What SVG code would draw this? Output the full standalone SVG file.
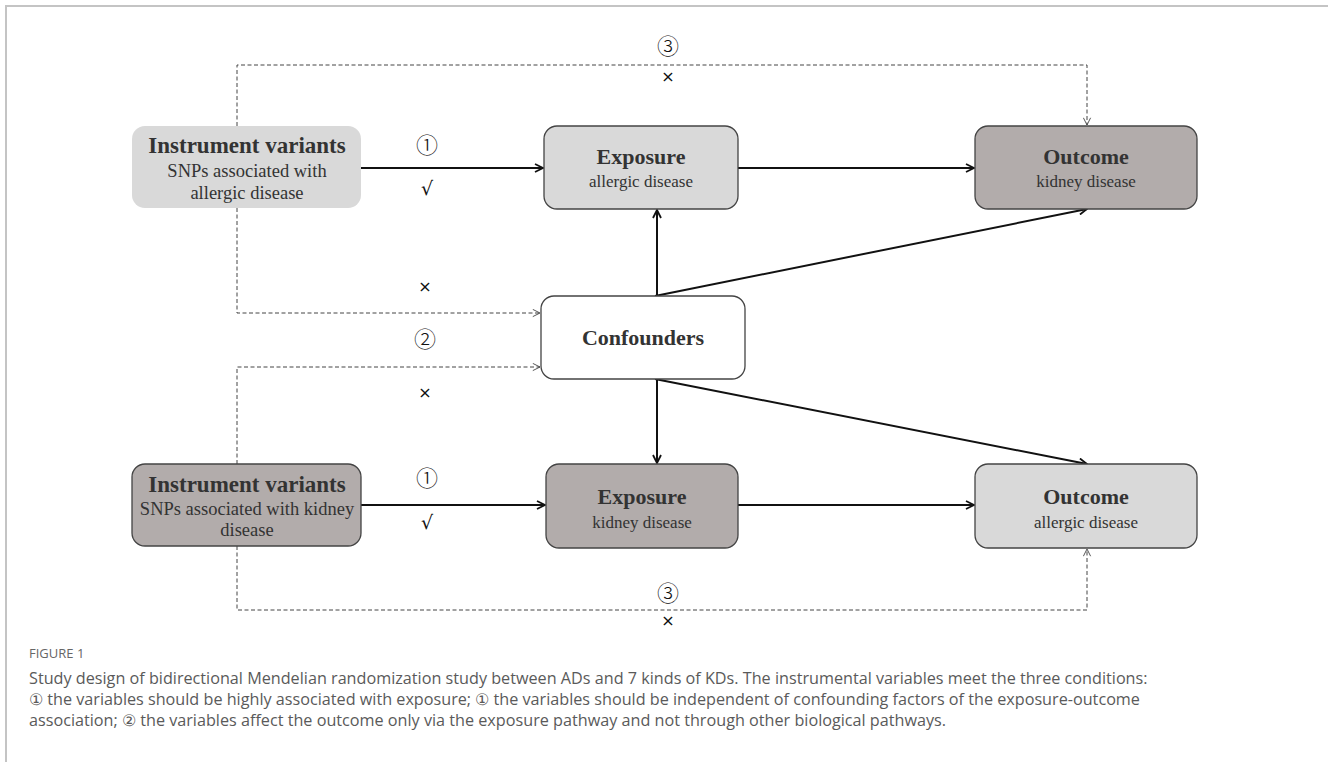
<svg xmlns="http://www.w3.org/2000/svg" width="1328" height="762" viewBox="0 0 1328 762">
<style>
.box{stroke:#444;stroke-width:1.3}
.light{fill:#d9d9d9}
.dark{fill:#b2acab}
.t{font-family:"Liberation Serif",serif;fill:#333;text-anchor:middle}
.title{font-size:22px;font-weight:bold}
.ivt{font-size:23px;font-weight:bold}
.sub{font-size:17px}
.sub2{font-size:18.5px}
.solid{stroke:#111;stroke-width:2;fill:none}
.dash{stroke:#444;stroke-width:1;stroke-dasharray:4,2.5;fill:none}
.lab{font-family:"DejaVu Sans",sans-serif;fill:#111;text-anchor:middle}
.num{font-family:"Noto Sans CJK JP","DejaVu Sans",sans-serif;font-size:22px;font-weight:300}
.x{font-size:16px}
.ck{font-size:19px}
.cap{font-family:"Open Sans",sans-serif;fill:#5a5a5a;font-size:16.2px}
</style>
<defs>
<marker id="ah" viewBox="0 0 10 10" refX="9" refY="5" markerWidth="10" markerHeight="10" markerUnits="userSpaceOnUse" orient="auto">
<path d="M1,1 L9,5 L1,9" fill="none" stroke="#111" stroke-width="1.8"/>
</marker>
<marker id="dh" viewBox="0 0 10 10" refX="9" refY="5" markerWidth="9" markerHeight="9" markerUnits="userSpaceOnUse" orient="auto">
<path d="M1,1 L9,5 L1,9" fill="none" stroke="#444" stroke-width="1"/>
</marker>
</defs>
<rect width="1328" height="762" fill="#fff"/>
<path d="M6,762 V6 H1328" fill="none" stroke="#c4c4c4" stroke-width="2"/>

<g id="connectors">
<line class="solid" x1="361" y1="168" x2="543" y2="168" marker-end="url(#ah)"/>
<line class="solid" x1="738" y1="168" x2="974" y2="168" marker-end="url(#ah)"/>
<line class="solid" x1="657" y1="296" x2="657" y2="210" marker-end="url(#ah)"/>
<line class="solid" x1="655" y1="296" x2="1087" y2="209" marker-end="url(#ah)"/>
<line class="solid" x1="657" y1="379" x2="657" y2="463" marker-end="url(#ah)"/>
<line class="solid" x1="655" y1="379" x2="1087" y2="464" marker-end="url(#ah)"/>
<line class="solid" x1="361" y1="505" x2="545" y2="505" marker-end="url(#ah)"/>
<line class="solid" x1="738" y1="505" x2="974" y2="505" marker-end="url(#ah)"/>
<path class="dash" d="M237,126 V65 H1087 V125" marker-end="url(#dh)"/>
<path class="dash" d="M237,208 V313 H540" marker-end="url(#dh)"/>
<path class="dash" d="M237,464 V367 H540" marker-end="url(#dh)"/>
<path class="dash" d="M237,546 V610 H1087 V549" marker-end="url(#dh)"/>
<text class="lab num" x="668" y="54">③</text>
<text class="lab x" x="668" y="82">×</text>
<text class="lab num" x="427" y="153">①</text>
<text class="lab ck" x="427" y="195">√</text>
<text class="lab x" x="425" y="292">×</text>
<text class="lab num" x="425" y="347">②</text>
<text class="lab x" x="425" y="398">×</text>
<text class="lab num" x="427" y="486">①</text>
<text class="lab ck" x="427" y="529">√</text>
<text class="lab num" x="668" y="601">③</text>
<text class="lab x" x="668" y="626">×</text>
</g>

<g id="iv-top">
<rect class="light" x="132" y="126" width="229" height="82" rx="13"/>
<text class="t ivt" x="247" y="153">Instrument variants</text>
<text class="t sub2" x="247" y="177">SNPs associated with</text>
<text class="t sub2" x="247" y="199">allergic disease</text>
</g>
<g id="exposure-top">
<rect class="box light" x="544" y="126" width="194" height="83" rx="13"/>
<text class="t title" x="641" y="164">Exposure</text>
<text class="t sub" x="641" y="187">allergic disease</text>
</g>
<g id="outcome-top">
<rect class="box dark" x="975" y="126" width="222" height="83" rx="13"/>
<text class="t title" x="1086" y="164">Outcome</text>
<text class="t sub" x="1086" y="187">kidney disease</text>
</g>
<g id="confounders">
<rect class="box" fill="#fff" x="541" y="296" width="204" height="83" rx="13"/>
<text class="t title" x="643" y="345">Confounders</text>
</g>
<g id="iv-bottom">
<rect class="box dark" x="132" y="464" width="229" height="82" rx="13"/>
<text class="t ivt" x="247" y="492">Instrument variants</text>
<text class="t sub2" x="247" y="515">SNPs associated with kidney</text>
<text class="t sub2" x="247" y="536">disease</text>
</g>
<g id="exposure-bottom">
<rect class="box dark" x="546" y="464" width="192" height="84" rx="13"/>
<text class="t title" x="642" y="504">Exposure</text>
<text class="t sub" x="642" y="528">kidney disease</text>
</g>
<g id="outcome-bottom">
<rect class="box light" x="975" y="464" width="222" height="84" rx="13"/>
<text class="t title" x="1086" y="504">Outcome</text>
<text class="t sub" x="1086" y="528">allergic disease</text>
</g>

<g id="caption">
<text x="29" y="658" font-family="Open Sans, sans-serif" font-size="13px" fill="#666">FIGURE 1</text>
<text class="cap" x="29" y="684">Study design of bidirectional Mendelian randomization study between ADs and 7 kinds of KDs. The instrumental variables meet the three conditions:</text>
<text class="cap" x="29" y="705">① the variables should be highly associated with exposure; ① the variables should be independent of confounding factors of the exposure-outcome</text>
<text class="cap" x="29" y="726">association; ② the variables affect the outcome only via the exposure pathway and not through other biological pathways.</text>
</g>
</svg>
